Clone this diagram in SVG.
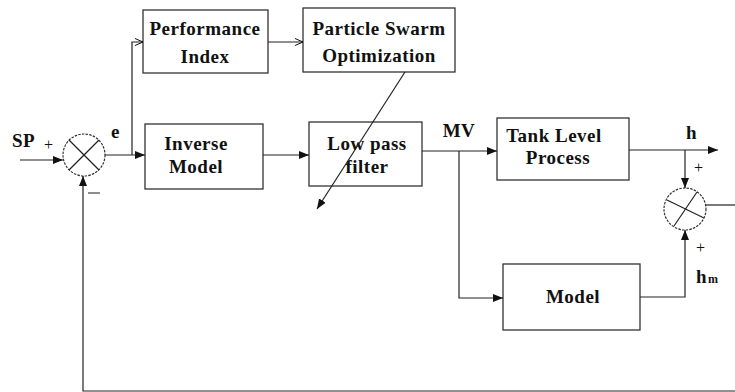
<svg xmlns="http://www.w3.org/2000/svg" width="735" height="392" viewBox="0 0 735 392">
<defs>
<marker id="ah" viewBox="0 0 10 8" refX="10" refY="4" markerWidth="10" markerHeight="8" markerUnits="userSpaceOnUse" orient="auto">
<path d="M0,0 L10,4 L0,8 Z" fill="#111"/>
</marker>
<marker id="ao" viewBox="0 0 8 8" refX="8" refY="4" markerWidth="8" markerHeight="8" markerUnits="userSpaceOnUse" orient="auto">
<path d="M0,0.5 L8,4 L0,7.5" fill="none" stroke="#111" stroke-width="1"/>
</marker>
</defs>
<style>
.box{fill:#fff;stroke:#333;stroke-width:1.3}
.sum{fill:#fff;stroke:#333;stroke-width:1.2;stroke-dasharray:2.5 1.2}
.ln{fill:none;stroke:#222;stroke-width:1.2}
text{font-family:'Liberation Serif','Times New Roman',serif;fill:#111}
.t{font-weight:bold;font-size:19px;letter-spacing:0.5px}
.s{font-size:16px}
.c{text-anchor:middle}
</style>
<rect width="735" height="392" fill="#fff"/>
<g id="performance-index">
<rect class="box" x="143" y="10" width="125" height="63"/>
<text class="t c" x="205" y="35">Performance</text>
<text class="t c" x="205" y="63">Index</text>
</g>
<g id="pso">
<rect class="box" x="303" y="8" width="152" height="64"/>
<text class="t c" x="379" y="35">Particle Swarm</text>
<text class="t c" x="379" y="62">Optimization</text>
</g>
<g id="inverse-model">
<rect class="box" x="145" y="124" width="118" height="65"/>
<text class="t c" x="196" y="150">Inverse</text>
<text class="t c" x="196" y="173">Model</text>
</g>
<g id="low-pass-filter">
<rect class="box" x="309" y="122" width="113" height="64"/>
<text class="t c" x="367" y="150">Low pass</text>
<text class="t c" x="367" y="173">filter</text>
</g>
<g id="tank-level-process">
<rect class="box" x="497" y="118" width="132" height="62"/>
<text class="t c" x="554" y="142">Tank Level</text>
<text class="t c" x="558" y="164">Process</text>
</g>
<g id="model">
<rect class="box" x="503" y="264" width="137" height="66"/>
<text class="t c" x="573" y="303">Model</text>
</g>
<g id="sum1">
<circle class="sum" cx="84" cy="155" r="21"/>
<line class="ln" x1="69" y1="140" x2="99" y2="170"/>
<line class="ln" x1="99" y1="140" x2="69" y2="170"/>
</g>
<g id="sum2">
<circle class="sum" cx="685" cy="209" r="21"/>
<line class="ln" x1="667" y1="200" x2="704" y2="218"/>
<line class="ln" x1="697" y1="192" x2="674" y2="226"/>
</g>
<g id="connectors">
<line class="ln" x1="20" y1="160" x2="63" y2="160" marker-end="url(#ah)"/>
<line class="ln" x1="105" y1="155" x2="145" y2="155" marker-end="url(#ah)"/>
<polyline class="ln" points="132,155 132,42 143,42" marker-end="url(#ao)"/>
<line class="ln" x1="268" y1="42" x2="303" y2="42" marker-end="url(#ao)"/>
<line class="ln" x1="263" y1="155" x2="309" y2="155" marker-end="url(#ah)"/>
<line class="ln" x1="422" y1="151" x2="497" y2="151" marker-end="url(#ah)"/>
<polyline class="ln" points="459,151 459,298 503,298" marker-end="url(#ah)"/>
<line class="ln" x1="629" y1="150" x2="718" y2="150" marker-end="url(#ah)"/>
<line class="ln" x1="685" y1="150" x2="685" y2="188" marker-end="url(#ah)"/>
<polyline class="ln" points="640,297 685,297 685,230" marker-end="url(#ah)"/>
<line class="ln" x1="706" y1="205" x2="735" y2="205"/>
<polyline class="ln" points="735,391 83,391 83,176" marker-end="url(#ah)"/>
<line class="ln" x1="405" y1="72" x2="317" y2="209" stroke-width="1" marker-end="url(#ah)"/>
</g>
<g id="labels">
<text class="t" x="12" y="147">SP</text>
<text class="s" x="44" y="150">+</text>
<text class="t" x="111" y="138">e</text>
<text class="t c" x="459" y="137">MV</text>
<text class="t" x="686" y="139">h</text>
<text class="s" x="694" y="173">+</text>
<text class="s" x="696" y="253">+</text>
<text class="t" x="696" y="283">h</text>
<text class="t" x="708" y="283" style="font-size:12px">m</text>
<line x1="88" y1="193" x2="100" y2="193" stroke="#444" stroke-width="1.2"/>
</g>
</svg>
